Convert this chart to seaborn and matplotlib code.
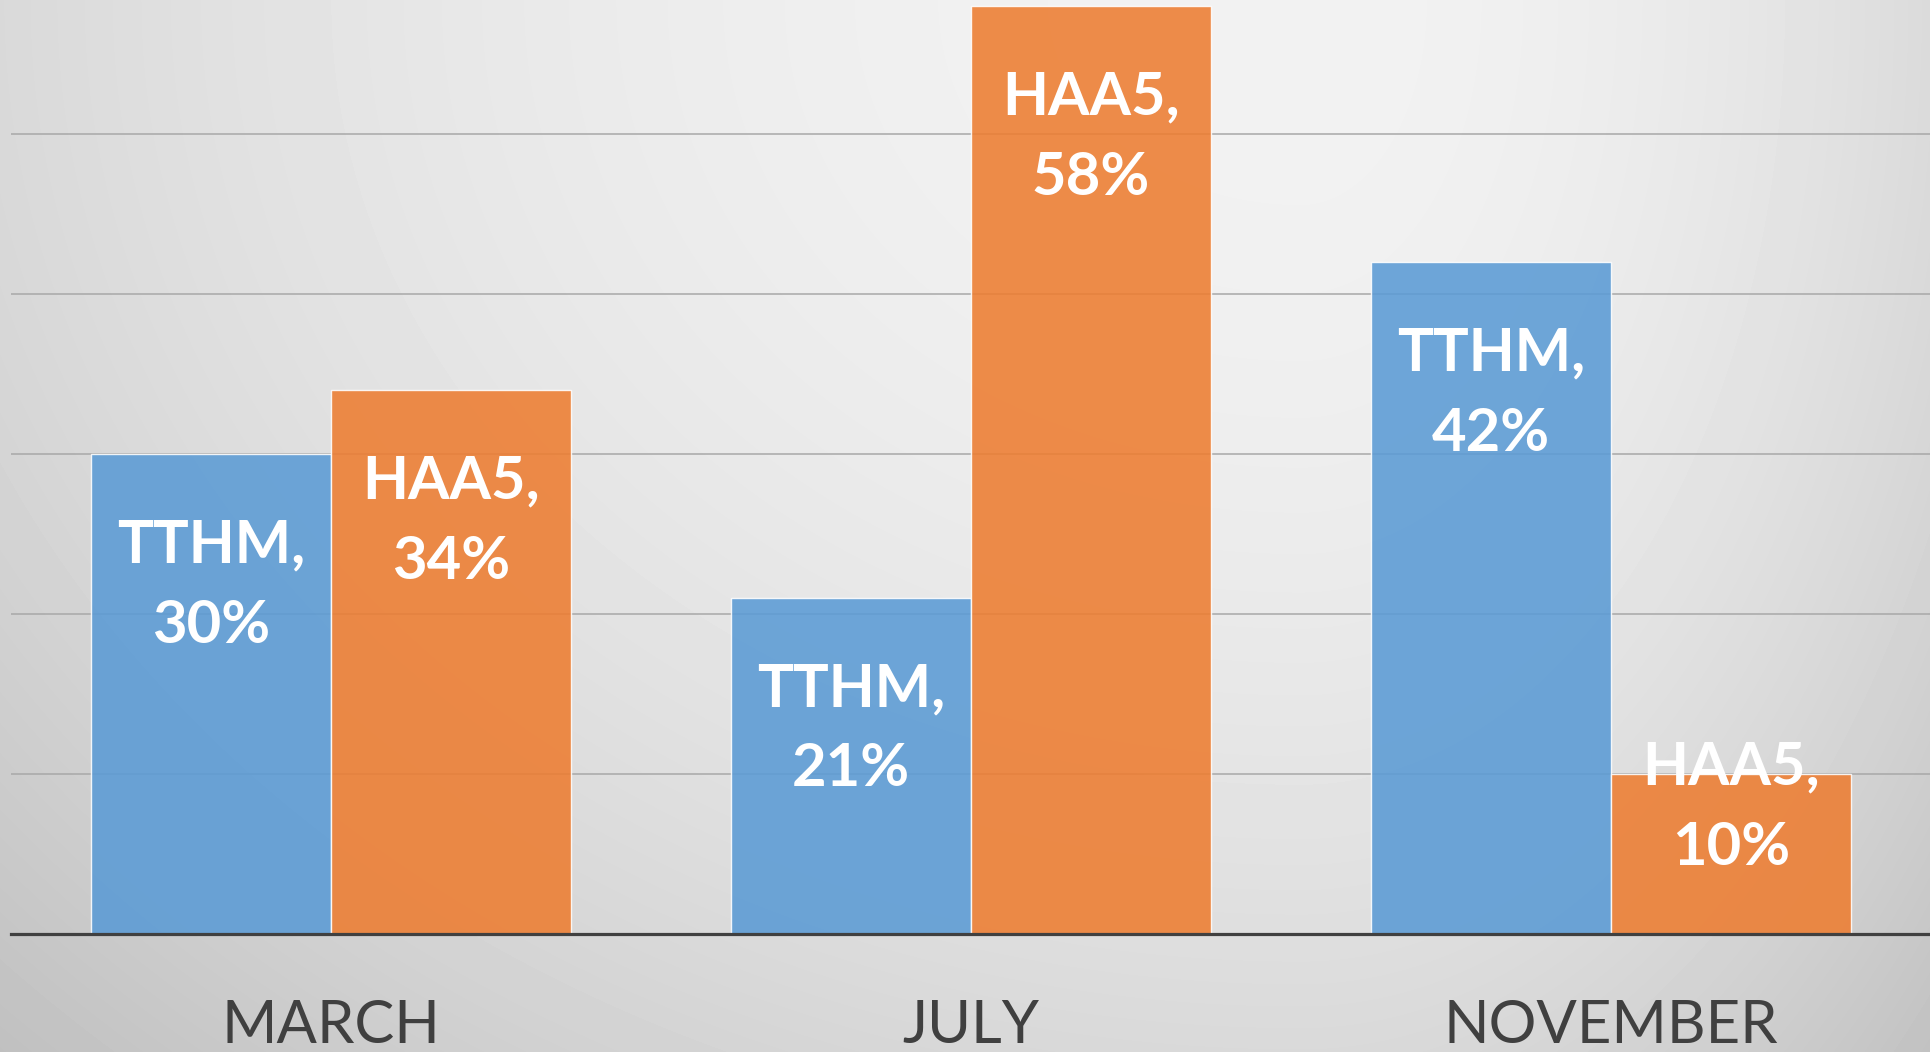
import numpy as np
import pandas as pd
import matplotlib
matplotlib.use("Agg")
import matplotlib.pyplot as plt
import seaborn as sns

# data
MONTHS = ["MARCH", "JULY", "NOVEMBER"]
COMPOUNDS = ["TTHM", "HAA5"]
TTHM_PCT = [30, 21, 42]
HAA5_PCT = [34, 58, 10]

BAR_COLORS = ["#5B9BD5", "#ED7D31"]
TEXT_DARK = "#404040"

df = pd.DataFrame({
    "month": MONTHS * 2,
    "compound": [COMPOUNDS[0]] * 3 + [COMPOUNDS[1]] * 3,
    "pct": TTHM_PCT + HAA5_PCT,
})

sns.set_theme(style="white")
plt.rcParams["font.family"] = ["Lato", "DejaVu Sans"]

fig = plt.figure(figsize=(19.31, 10.52), dpi=100)

# soft radial gray background, brightest near the top right of centre
bg = fig.add_axes([0, 0, 1, 1], zorder=-1)
h, w = 1052, 1931
yy, xx = np.mgrid[0:h, 0:w]
cx = 1300.0
dx = np.where(xx < cx, (xx - cx) / 1300.0, (xx - cx) / 650.0)
dy = yy / 1052.0
r2 = dx ** 2 + dy ** 2
shade = np.clip(242 - 25 * r2, 190, 245) / 255.0
bg.imshow(shade, cmap="gray", vmin=0, vmax=1, aspect="auto", interpolation="bilinear")
bg.axis("off")

ax = fig.add_axes([11 / 1931, 118 / 1052, 1 - 11 / 1931, 1 - 118 / 1052])
ax.set_facecolor("none")

sns.barplot(data=df, x="month", y="pct", hue="compound", palette=BAR_COLORS,
            saturation=1, width=0.75, gap=0, alpha=0.88, edgecolor="white",
            linewidth=1.0, legend=False, ax=ax)

ax.set_xlim(-0.5, 2.5)
ax.set_ylim(0, 58.4)
ax.set_yticks([10, 20, 30, 40, 50])
ax.yaxis.grid(True, color="#a8a8a8", linewidth=1.1)
ax.set_axisbelow(True)
ax.tick_params(axis="y", left=False, labelleft=False)
ax.tick_params(axis="x", bottom=False, labelsize=43, labelcolor=TEXT_DARK, pad=41)
ax.set_xlabel("")
ax.set_ylabel("")
for side in ["top", "left", "right"]:
    ax.spines[side].set_visible(False)
ax.spines["bottom"].set_color(TEXT_DARK)
ax.spines["bottom"].set_linewidth(2.3)

# data labels: inside end, pushed up when the bar is too short
for name, cont in zip(COMPOUNDS, ax.containers):
    for bar in cont:
        v = bar.get_height()
        xc = bar.get_x() + bar.get_width() / 2
        yc = max(v - 8.2, 7.9)
        ax.text(xc, yc, f"{name},\n{v:.0f}%", ha="center", va="center",
                color="white", fontsize=43, fontweight="bold", linespacing=1.6)

fig.savefig("out.png", dpi=100)
